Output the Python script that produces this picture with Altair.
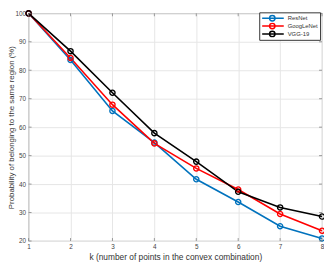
import altair as alt
import pandas as pd

k_values = [1, 2, 3, 4, 5, 6, 7, 8]
resnet = [100, 83.6, 65.7, 54.6, 41.7, 33.7, 25.2, 20.9]
googlenet = [100, 84.3, 67.9, 54.3, 45.5, 38.1, 29.5, 23.6]
vgg19 = [100, 86.7, 72.1, 57.9, 47.9, 37.3, 31.8, 28.6]
series_names = ["ResNet", "GoogLeNet", "VGG-19"]
series_colors = ["#0072BD", "#FF0000", "#000000"]
x_ticks = [1, 2, 3, 4, 5, 6, 7, 8]
y_ticks = [20, 30, 40, 50, 60, 70, 80, 90, 100]

rows = []
for name, vals in zip(series_names, [resnet, googlenet, vgg19]):
    for k, v in zip(k_values, vals):
        rows.append({"k": k, "p": v, "model": name})
df = pd.DataFrame(rows)
xt = pd.DataFrame({"k": x_ticks})
yt = pd.DataFrame({"p": y_ticks})

W, H = 299, 232
FONT = "Liberation Sans"

x_scale = alt.Scale(domain=[1, 8], nice=False, zero=False)
y_scale = alt.Scale(domain=[20, 100], nice=False, zero=False)

x_axis = alt.Axis(values=x_ticks, tickCount=8, title="k (number of points in the convex combination)",
                  labelFontSize=6.5, titleFontSize=8.5, tickSize=0, labelPadding=3,
                  titlePadding=2, domain=False, labelFlush=False, labelOverlap=False,
                  grid=True, gridColor="#e6e6e6", labelColor="#444", titleColor="#333",
                  titleFontWeight="normal", labelFont=FONT, titleFont=FONT)
y_axis = alt.Axis(values=y_ticks, tickCount=9, title="Probability of belonging to the same region (%)",
                  labelFontSize=6.5, titleFontSize=8, tickSize=0, labelPadding=3,
                  titlePadding=0, domain=False, labelFlush=False, labelOverlap=False,
                  grid=True, gridColor="#e6e6e6", labelColor="#444", titleColor="#333",
                  titleFontWeight="normal", labelFont=FONT, titleFont=FONT)

legend_symbol = "M-1,0H7.8M4.22,0A1.1,1.1 0 1,1 2.02,0A1.1,1.1 0 1,1 4.22,0"

color = alt.Color("model:N",
                  scale=alt.Scale(domain=series_names, range=series_colors),
                  legend=alt.Legend(title=None, orient="none", legendX=235, legendY=-1,
                                    padding=2, strokeColor="#333", fillColor="white",
                                    labelFontSize=6, labelFont=FONT, labelColor="#333",
                                    symbolType=legend_symbol,
                                    symbolSize=25, symbolStrokeWidth=1.5,
                                    symbolFillColor="transparent", clipHeight=8,
                                    labelOffset=20, rowPadding=0, cornerRadius=0))

base = alt.Chart(df).encode(
    x=alt.X("k:Q", scale=x_scale, axis=x_axis),
    y=alt.Y("p:Q", scale=y_scale, axis=y_axis),
    color=color,
    order=alt.Order("k:Q"),
)
lines = base.mark_line(strokeWidth=1.6)
points = base.mark_point(filled=False, size=28, strokeWidth=1.4, opacity=1)

tick_style = dict(color="#808080", strokeWidth=0.8)
bottom_ticks = alt.Chart(xt).mark_rule(**tick_style).encode(
    x=alt.X("k:Q", scale=x_scale, axis=x_axis), y=alt.value(H), y2=alt.value(H - 3))
top_ticks = alt.Chart(xt).mark_rule(**tick_style).encode(
    x=alt.X("k:Q", scale=x_scale, axis=x_axis), y=alt.value(0), y2=alt.value(3))
left_ticks = alt.Chart(yt).mark_rule(**tick_style).encode(
    y=alt.Y("p:Q", scale=y_scale, axis=y_axis), x=alt.value(0), x2=alt.value(3))
right_ticks = alt.Chart(yt).mark_rule(**tick_style).encode(
    y=alt.Y("p:Q", scale=y_scale, axis=y_axis), x=alt.value(W - 3), x2=alt.value(W))

chart = alt.layer(lines, points, bottom_ticks, top_ticks, left_ticks, right_ticks).properties(
    width=W, height=H,
    autosize=alt.AutoSizeParams(type="none"),
    padding={"left": 21, "top": 3, "right": 2, "bottom": 21},
    background="white",
).configure_view(stroke="#808080", strokeWidth=0.8)

chart.save("out.html", embed_options={"renderer": "svg", "actions": False})
